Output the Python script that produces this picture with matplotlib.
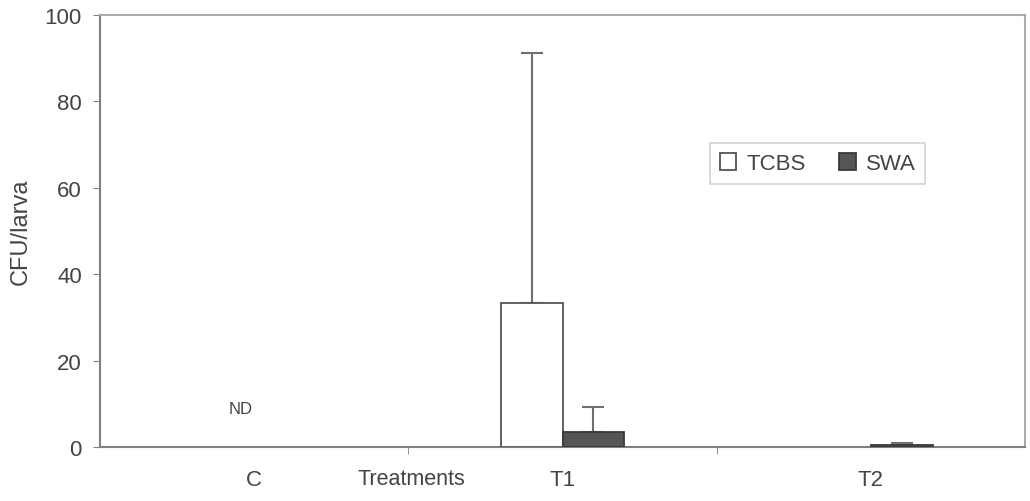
import matplotlib
matplotlib.use("Agg")
import matplotlib.pyplot as plt
import numpy as np

plt.rcParams['font.family'] = ['Liberation Sans', 'DejaVu Sans']

# CFU per larva on two media; nan = not detected
categories = ['C', 'T1', 'T2']
tcbs = [np.nan, 33.3, np.nan]
tcbs_err = [0, 57.8, 0]
swa = [np.nan, 3.5, 0.4]
swa_err = [0, 5.7, 0.5]

TEXT = '#444444'
EDGE = '#555555'
AXIS = '#808080'

fig = plt.figure(figsize=(10.30, 5.02), dpi=100)
ax = fig.add_axes([100 / 1030, 54 / 502, 925 / 1030, 432 / 502])

x = np.arange(len(categories))
width = 0.2

ax.bar(x - width / 2, tcbs, width, color='white', edgecolor=EDGE,
       linewidth=1.3, label='TCBS', zorder=3)
ax.bar(x + width / 2, swa, width, color='#555555', edgecolor='#3a3a3a',
       linewidth=1.3, label='SWA', zorder=3)

# one-sided (upper) error bars
ax.errorbar(x - width / 2, tcbs, yerr=[np.zeros(3), tcbs_err], fmt='none',
            ecolor='#707070', elinewidth=1.5, capsize=8, capthick=1.5, zorder=2)
ax.errorbar(x + width / 2, swa, yerr=[np.zeros(3), swa_err], fmt='none',
            ecolor='#707070', elinewidth=1.5, capsize=8, capthick=1.5, zorder=2)

ax.set_xlim(-0.5, 2.5)
ax.set_ylim(0, 100)
ax.set_yticks(np.arange(0, 101, 20))
ax.set_xticks(x)
ax.set_xticklabels(categories)
ax.set_xticks([0.5, 1.5], minor=True)
ax.tick_params(axis='x', which='major', length=0, pad=16, labelsize=16, labelcolor=TEXT)
ax.tick_params(axis='x', which='minor', length=5, color=AXIS, direction='out')
ax.tick_params(axis='y', length=5, color=AXIS, labelsize=16, labelcolor=TEXT, pad=8)

for side in ['left', 'bottom']:
    ax.spines[side].set_color(AXIS)
    ax.spines[side].set_linewidth(1.5)
for side in ['top', 'right']:
    ax.spines[side].set_color('#aaaaaa')
    ax.spines[side].set_linewidth(1.5)

ax.set_ylabel('CFU/larva', fontsize=17, color=TEXT, labelpad=9)
ax.set_xlabel('Treatments', fontsize=15.5, color=TEXT)
ax.xaxis.set_label_coords(0.337, -0.048)

ax.text(-0.045, 8.8, 'ND', fontsize=12, color=TEXT, ha='center', va='center')

leg = ax.legend(loc='upper left', bbox_to_anchor=(0.659, 0.703), ncol=2,
                fancybox=False, frameon=True, fontsize=16, handlelength=0.75,
                handleheight=0.75, handletextpad=0.45, columnspacing=1.5,
                borderpad=0.45, borderaxespad=0)
leg.get_frame().set_edgecolor('#c8c8c8')
leg.get_frame().set_linewidth(1.2)
for t in leg.get_texts():
    t.set_color(TEXT)

fig.savefig('out.png', dpi=100)
